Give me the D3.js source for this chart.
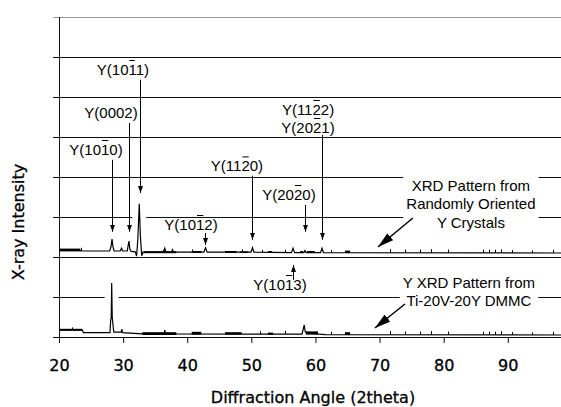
<!doctype html>
<html lang="en">
<head>
<meta charset="utf-8">
<title>Y XRD patterns</title>
<script src="https://cdnjs.cloudflare.com/ajax/libs/d3/7.8.5/d3.min.js"></script>
<style>
    body { margin: 0; background: #fff; }
    svg { display: block; }
    .axis-label { font-family: 'DejaVu Sans', Verdana, sans-serif; font-size: 16px; fill: #000; stroke: #000; stroke-width: 0.3px; }
    .note { font-family: 'Liberation Sans', Arial, sans-serif; font-size: 15px; fill: #000; }
</style>
</head>
<body>
<svg id="chart" width="561" height="407"></svg>
<script>
// pattern of randomly oriented Y crystals: [2theta, intensity]
const upperTrace = [
    [20.0, 2.17], [23.3, 2.17], [23.4, 2.15], [27.9, 2.15], [28.1, 2.25], [28.27, 2.45], [28.42, 2.25], [28.6, 2.15],
    [29.55, 2.15], [29.75, 2.22], [29.95, 2.15], [30.65, 2.15], [30.8, 2.3], [30.92, 2.4], [31.05, 2.2], [31.25, 2.14],
    [31.9, 2.13], [32.1, 2.02], [32.3, 2.45], [32.52, 3.33], [32.7, 2.5], [32.9, 2.03], [33.1, 2.12],
    [36.3, 2.12], [36.5, 2.22], [36.7, 2.12], [37.55, 2.12], [37.7, 2.18], [37.85, 2.12],
    [42.6, 2.12], [42.85, 2.23], [43.1, 2.12], [49.95, 2.12], [50.18, 2.23], [50.4, 2.12],
    [56.25, 2.11], [56.5, 2.22], [56.75, 2.11], [58.2, 2.11], [58.37, 2.16], [58.55, 2.11],
    [60.8, 2.11], [61.02, 2.22], [61.25, 2.11], [98.3, 2.1]
];
// pattern from the Ti-20V-20Y DMMC
const lowerTrace = [
    [20.0, 0.18], [23.6, 0.18], [23.8, 0.11], [27.95, 0.11], [28.05, 0.4], [28.15, 0.5], [28.22, 1.35], [28.3, 0.5],
    [28.42, 0.3], [28.55, 0.12], [29.7, 0.12], [29.8, 0.2], [29.9, 0.11], [33.0, 0.08], [36.4, 0.08], [36.5, 0.17],
    [36.6, 0.08], [57.9, 0.07], [58.1, 0.2], [58.25, 0.3], [58.4, 0.14], [58.6, 0.1], [61.5, 0.06], [98.3, 0.05]
];
// noisy stretches: [from, to, low, high]
const upperBands = [
    [20.0, 23.3, 2.14, 2.21], [33.2, 38.3, 2.095, 2.145], [40.7, 42.2, 2.1, 2.15], [45.9, 47.7, 2.1, 2.15],
    [48.2, 49.5, 2.1, 2.14], [52.6, 53.2, 2.1, 2.15], [57.6, 58.1, 2.1, 2.15], [58.7, 59.9, 2.1, 2.15], [64.6, 65.4, 2.1, 2.16]
];
const lowerBands = [
    [20.0, 23.6, 0.155, 0.205], [33.0, 38.3, 0.05, 0.12], [40.7, 42.2, 0.06, 0.13], [45.9, 48.5, 0.06, 0.12],
    [52.6, 53.4, 0.06, 0.11], [58.5, 60.4, 0.06, 0.14], [64.6, 65.4, 0.05, 0.12]
];
// small noise spikes: [2theta, height]
const upperSpikes = [
    [23.5, 0.08], [36.2, 0.06], [37.6, 0.06], [40.7, 0.07], [48.5, 0.07], [51.6, 0.06], [55.2, 0.07], [62.5, 0.06],
    [71.6, 0.09], [74.0, 0.08], [76.3, 0.08], [78.1, 0.09], [80.7, 0.08], [86.2, 0.08], [87.0, 0.08], [88.0, 0.08],
    [89.0, 0.09], [90.6, 0.07], [93.7, 0.06], [97.1, 0.08]
];
const lowerSpikes = [
    [22.0, 0.06], [51.4, 0.07], [55.2, 0.08], [62.5, 0.07], [71.6, 0.09], [74.0, 0.08], [76.3, 0.08], [78.1, 0.09],
    [80.7, 0.08], [86.2, 0.08], [87.0, 0.08], [88.0, 0.08], [89.0, 0.09], [90.6, 0.07], [93.7, 0.06], [97.1, 0.08]
];
const xTicks = [20, 30, 40, 50, 60, 70, 80, 90];
const gridLevels = [0, 1, 2, 3, 4, 5, 6, 7, 8];

// reflection labels; bar = index of the barred digit, arrow = [2theta, from, to]
const peakLabels = [
    { text: "Y(1010)", bar: 4, at: [25.77, 4.55], arrow: [28.27, 4.43, 2.63] },
    { text: "Y(0002)", bar: -1, at: [28.11, 5.475], arrow: [30.92, 5.35, 2.63] },
    { text: "Y(1011)", bar: 4, at: [29.98, 6.55], arrow: [32.56, 6.43, 3.6] },
    { text: "Y(1120)", bar: 4, at: [47.76, 4.14], arrow: [50.18, 4.03, 2.43] },
    { text: "Y(2020)", bar: 4, at: [55.87, 3.425], arrow: [58.37, 3.3, 2.63] },
    { text: "Y(1122)", bar: 4, at: [58.84, 5.55], arrow: null },
    { text: "Y(2021)", bar: 4, at: [58.84, 5.1], arrow: [61.02, 5.05, 2.43] },
    { text: "Y(1012)", bar: 4, at: [40.59, 2.675], arrow: [42.85, 2.6, 2.3] },
    { text: "Y(1013)", bar: 4, at: [54.47, 1.175], arrow: [56.5, 1.43, 1.8] }
];
const upperNote = ["XRD Pattern from", "Randomly Oriented", "Y Crystals"];
const lowerNote = ["Y XRD Pattern from", "Ti-20V-20Y DMMC"];
const notes = [
    { lines: upperNote, at: [84.25, 3.65, 3.2, 2.725], arrow: [[75.2, 2.975], [69.75, 2.25]] },
    { lines: lowerNote, at: [83.94, 1.225, 0.763], arrow: [[73.96, 0.825], [69.28, 0.225]] }
];

const svg = d3.select("#chart");
const x = d3.scaleLinear().domain([20, 98.3]).range([59, 561]);
const y = d3.scaleLinear().domain([0, 8]).range([337, 17]);
const crisp = v => Math.round(v) + 0.5;

const defs = svg.append("defs");
defs.append("marker").attr("id", "tip").attr("viewBox", "0 0 7 5")
    .attr("refX", 7).attr("refY", 2.5).attr("markerWidth", 7).attr("markerHeight", 5)
    .attr("markerUnits", "userSpaceOnUse").attr("orient", "auto")
    .append("path").attr("d", "M0,0L7,2.5L0,5Z").attr("fill", "#000");
defs.append("marker").attr("id", "bigtip").attr("viewBox", "0 0 16 9")
    .attr("refX", 16).attr("refY", 4.5).attr("markerWidth", 16).attr("markerHeight", 9)
    .attr("markerUnits", "userSpaceOnUse").attr("orient", "auto")
    .append("path").attr("d", "M0,0L16,4.5L0,9Z").attr("fill", "#000");

// horizontal grid with stubs left of the axis
svg.append("g").selectAll("line").data(gridLevels).join("line")
    .attr("x1", x.range()[0] - 6).attr("x2", x.range()[1])
    .attr("y1", d => crisp(y(d))).attr("y2", d => crisp(y(d)))
    .attr("stroke", d => d === 8 ? "#9a9a9a" : "#111").attr("stroke-width", 1);

svg.append("line")
    .attr("x1", crisp(x(20))).attr("x2", crisp(x(20)))
    .attr("y1", y(8)).attr("y2", y(0) + 1)
    .attr("stroke", "#111");

const xAxis = svg.append("g").attr("transform", `translate(0,${y(0)})`)
    .call(d3.axisBottom(x).tickValues(xTicks).tickSize(6).tickSizeOuter(0).tickPadding(17));
xAxis.attr("font-family", null).attr("font-size", null);
xAxis.select(".domain").attr("stroke", "#111");
xAxis.selectAll(".tick line").attr("stroke", "#111");
xAxis.selectAll(".tick text").attr("class", "axis-label");

svg.append("text").attr("class", "axis-label")
    .attr("x", 313).attr("y", 403).attr("text-anchor", "middle")
    .text("Diffraction Angle (2theta)");
svg.append("text").attr("class", "axis-label")
    .attr("transform", "translate(24,222) rotate(-90)").attr("text-anchor", "middle")
    .text("X-ray Intensity");

// clear the grid around the tallest peak of each pattern
[upperTrace, lowerTrace].forEach(trace => {
    const top = trace.reduce((a, b) => b[1] > a[1] ? b : a);
    const low = d3.min(trace, d => d[1]);
    gridLevels.filter(g => g > low && g < top[1]).forEach(g => {
        svg.append("rect").attr("x", x(top[0]) - 7).attr("y", y(g) - 1)
            .attr("width", 14).attr("height", 3).attr("fill", "#fff");
    });
});

function valueAt(trace, a) {
    const i = d3.bisector(d => d[0]).left(trace, a);
    if (i <= 0) return trace[0][1];
    if (i >= trace.length) return trace[trace.length - 1][1];
    const p = trace[i - 1], q = trace[i];
    return p[1] + (q[1] - p[1]) * (a - p[0]) / (q[0] - p[0]);
}

const line = d3.line().x(d => x(d[0])).y(d => y(d[1]));
[[upperTrace, upperBands, upperSpikes], [lowerTrace, lowerBands, lowerSpikes]].forEach(([trace, bands, spikes]) => {
    const g = svg.append("g");
    g.selectAll("rect").data(bands).join("rect")
        .attr("x", d => x(d[0])).attr("width", d => x(d[1]) - x(d[0]))
        .attr("y", d => y(d[3])).attr("height", d => y(d[2]) - y(d[3]))
        .attr("fill", "#000");
    g.append("path").datum(trace).attr("d", line)
        .attr("fill", "none").attr("stroke", "#000").attr("stroke-width", 1.2);
    g.selectAll("line").data(spikes).join("line")
        .attr("x1", d => crisp(x(d[0]))).attr("x2", d => crisp(x(d[0])))
        .attr("y1", d => y(valueAt(trace, d[0]))).attr("y2", d => y(valueAt(trace, d[0]) + d[1]))
        .attr("stroke", "#000");
});

// reflection labels and arrows
const labels = svg.append("g").attr("class", "note");
peakLabels.forEach(p => {
    const t = labels.append("text")
        .attr("x", x(p.at[0])).attr("y", y(p.at[1])).attr("text-anchor", "middle")
        .text(p.text);
    if (p.bar >= 0) {
        const e = t.node().getExtentOfChar(p.bar);
        labels.append("line")
            .attr("x1", e.x + 1).attr("x2", e.x + e.width - 1)
            .attr("y1", y(p.at[1]) - 14.5).attr("y2", y(p.at[1]) - 14.5)
            .attr("stroke", "#000").attr("stroke-width", 1);
    }
    if (p.arrow) {
        labels.append("line")
            .attr("x1", crisp(x(p.arrow[0]))).attr("x2", crisp(x(p.arrow[0])))
            .attr("y1", y(p.arrow[1])).attr("y2", y(p.arrow[2]))
            .attr("stroke", "#000").attr("stroke-width", 1)
            .attr("marker-end", "url(#tip)");
    }
});

// pattern notes with a white backing over the grid
notes.forEach(n => {
    const g = svg.append("g").attr("class", "note");
    n.lines.forEach((s, i) => {
        g.append("text").attr("x", x(n.at[0])).attr("y", y(n.at[i + 1]))
            .attr("text-anchor", "middle").text(s);
    });
    const b = g.node().getBBox();
    g.insert("rect", ":first-child")
        .attr("x", b.x - 3).attr("y", b.y).attr("width", b.width + 6).attr("height", b.height)
        .attr("fill", "#fff");
    svg.append("line")
        .attr("x1", x(n.arrow[0][0])).attr("y1", y(n.arrow[0][1]))
        .attr("x2", x(n.arrow[1][0])).attr("y2", y(n.arrow[1][1]))
        .attr("stroke", "#000").attr("stroke-width", 1.5)
        .attr("marker-end", "url(#bigtip)");
});
</script>
</body>
</html>
